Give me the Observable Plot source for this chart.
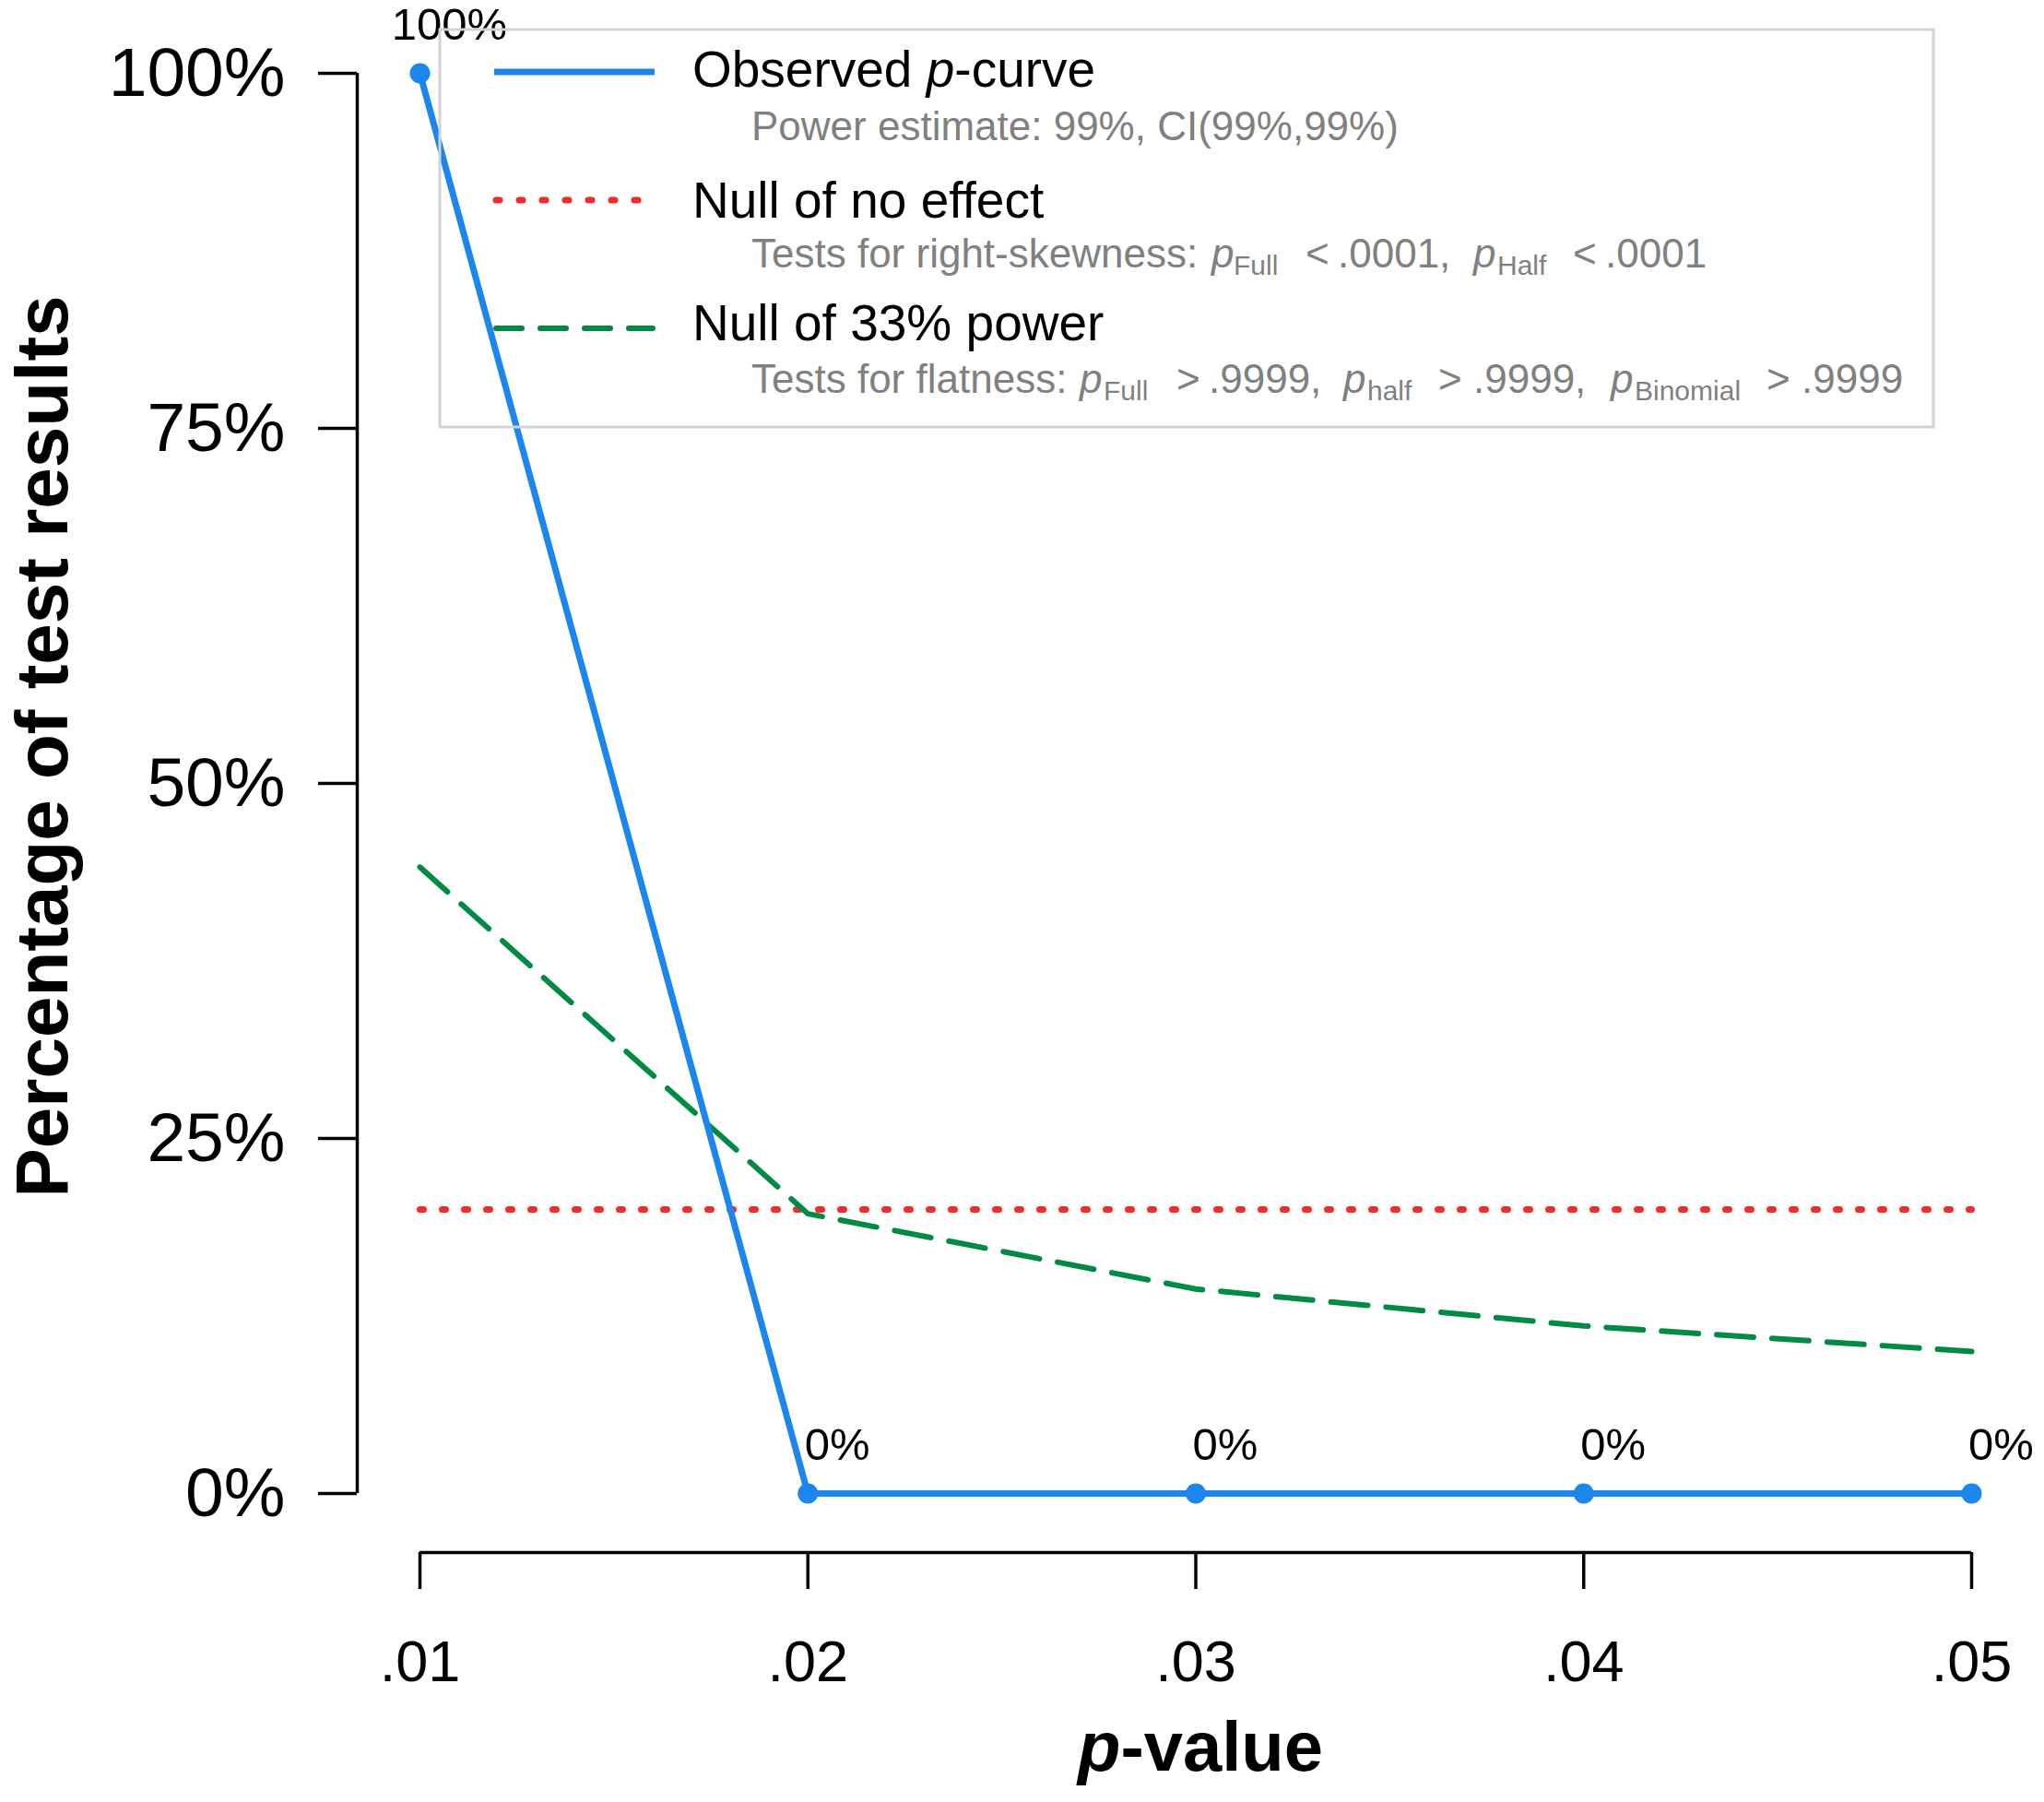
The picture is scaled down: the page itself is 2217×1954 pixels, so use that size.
<!DOCTYPE html>
<html>
<head>
<meta charset="utf-8">
<script src="https://cdn.jsdelivr.net/npm/d3@7"></script>
<script src="https://cdn.jsdelivr.net/npm/@observablehq/plot@0.6"></script>
<style>
  html, body { margin: 0; padding: 0; background: #fff; }
  #chart svg { display: block; }
</style>
</head>
<body>
<div id="chart"></div>
<script>
// ---- data ----
const pValues = [0.01, 0.02, 0.03, 0.04, 0.05];
const observed = [100, 0, 0, 0, 0];
const observedLabels = ["100%", "0%", "0%", "0%", "0%"];
const nullNoEffect = [20, 20, 20, 20, 20];
const null33Power = [44.1, 19.7, 14.4, 11.8, 10.0];
const xTicks = [0.01, 0.02, 0.03, 0.04, 0.05];
const xTickLabels = [".01", ".02", ".03", ".04", ".05"];
const yTicks = [0, 25, 50, 75, 100];
const yTickLabels = ["0%", "25%", "50%", "75%", "100%"];

const BLUE = "#1C86EE", RED = "#EE2C2C", GREEN = "#008B45";
const FONT = "'Liberation Sans', Arial, Helvetica, sans-serif";

const obsData = pValues.map((p, i) => ({p, v: observed[i], label: observedLabels[i]}));
const redData = pValues.map((p, i) => ({p, v: nullNoEffect[i]}));
const greenData = pValues.map((p, i) => ({p, v: null33Power[i]}));

const chart = Plot.plot({
  width: 2217,
  height: 1954,
  marginLeft: 455,
  marginRight: 79,
  marginTop: 79,
  marginBottom: 335,
  style: {fontFamily: FONT, background: "#fff", color: "#000"},
  x: {domain: [0.01, 0.05], axis: null},
  y: {domain: [0, 100], axis: null},
  marks: [
    // axes (R style, offset from the data region)
    Plot.ruleX([0.01], {y1: 0, y2: 100, dx: -68, stroke: "#000", strokeWidth: 3.5}),
    Plot.axisY({ticks: yTicks, tickFormat: d => yTickLabels[yTicks.indexOf(d)], tickSize: 42, tickPadding: 36,
      dx: -68, fontSize: 75, strokeWidth: 3.5, label: null}),
    Plot.ruleY([0], {x1: 0.01, x2: 0.05, dy: 64, stroke: "#000", strokeWidth: 3.5}),
    Plot.axisX({ticks: xTicks, tickFormat: d => xTickLabels[xTicks.indexOf(d)], tickSize: 40, tickPadding: 55,
      dy: 64, fontSize: 63, strokeWidth: 3.5, label: null}),
    // axis titles
    Plot.text(["Percentage of test results"], {frameAnchor: "left", textAnchor: "middle", rotate: -90, dx: -408, dy: -40,
      fontSize: 80, fontWeight: "bold", fill: "#000"}),
    Plot.text(["p-value"], {frameAnchor: "bottom", textAnchor: "middle", dx: 5, dy: 300, fontSize: 76, fontWeight: "bold", fill: "#000"}),
    // series
    Plot.line(redData, {x: "p", y: "v", stroke: RED, strokeWidth: 7, strokeDasharray: "4,20", strokeLinecap: "round"}),
    Plot.line(greenData, {x: "p", y: "v", stroke: GREEN, strokeWidth: 6, strokeDasharray: "40,20", strokeLinecap: "round"}),
    Plot.line(obsData, {x: "p", y: "v", stroke: BLUE, strokeWidth: 7}),
    Plot.dot(obsData, {x: "p", y: "v", r: 11, fill: BLUE}),
    Plot.text(obsData, {x: "p", y: "v", text: "label", dx: 32, dy: -52, fontSize: 49, fill: "#000"})
  ]
});
document.getElementById("chart").appendChild(chart);

const svg = d3.select(chart);

// italic "p" in the x-axis title
svg.selectAll("text").filter(function() { return this.textContent === "p-value"; })
  .each(function() {
    const t = d3.select(this);
    t.text(null);
    t.append("tspan").attr("font-style", "italic").text("p");
    t.append("tspan").text("-value");
  });

// ---- legend ----
const leg = svg.append("g").attr("font-family", FONT).attr("text-anchor", "start");
leg.append("rect").attr("x", 477).attr("y", 32).attr("width", 1620).attr("height", 431)
  .attr("fill", "none").attr("stroke", "#d2d2d2").attr("stroke-width", 3);

leg.append("line").attr("x1", 536).attr("x2", 710).attr("y1", 78).attr("y2", 78)
  .attr("stroke", BLUE).attr("stroke-width", 7);
leg.append("line").attr("x1", 538).attr("x2", 694).attr("y1", 217).attr("y2", 217)
  .attr("stroke", RED).attr("stroke-width", 7).attr("stroke-dasharray", "4,21").attr("stroke-linecap", "round");
leg.append("line").attr("x1", 538).attr("x2", 708).attr("y1", 356).attr("y2", 356)
  .attr("stroke", GREEN).attr("stroke-width", 6).attr("stroke-dasharray", "28,20").attr("stroke-linecap", "round");

function mainLabel(y, parts) {
  const t = leg.append("text").attr("x", 751).attr("y", y).attr("font-size", 55).attr("fill", "#000");
  parts.forEach(([s, it]) => t.append("tspan").attr("font-style", it ? "italic" : null).text(s));
}
mainLabel(94, [["Observed ", false], ["p", true], ["-curve", false]]);
mainLabel(236, [["Null of no effect", false]]);
mainLabel(369, [["Null of 33% power", false]]);

const GRAY = "#808080";
function tok(x, y, s, opts = {}) {
  leg.append("text").attr("x", x).attr("y", y + (opts.sub ? 8 : 0))
    .attr("font-size", opts.sub ? 30 : 44).attr("fill", GRAY)
    .attr("font-style", opts.it ? "italic" : null).text(s);
}
tok(815, 152, "Power estimate: 99%, CI(99%,99%)");

const y2 = 290;
tok(815, y2, "Tests for right-skewness:");
tok(1314, y2, "p", {it: true}); tok(1338, y2, "Full", {sub: true});
tok(1416, y2, "<"); tok(1451, y2, ".0001,");
tok(1598, y2, "p", {it: true}); tok(1624, y2, "Half", {sub: true});
tok(1706, y2, "<"); tok(1741, y2, ".0001");

const y3 = 426;
tok(815, y3, "Tests for flatness:");
tok(1171, y3, "p", {it: true}); tok(1197, y3, "Full", {sub: true});
tok(1276, y3, ">"); tok(1311, y3, ".9999,");
tok(1457, y3, "p", {it: true}); tok(1483, y3, "half", {sub: true});
tok(1560, y3, ">"); tok(1598, y3, ".9999,");
tok(1747, y3, "p", {it: true}); tok(1773, y3, "Binomial", {sub: true});
tok(1916, y3, ">"); tok(1954, y3, ".9999");
</script>
</body>
</html>
